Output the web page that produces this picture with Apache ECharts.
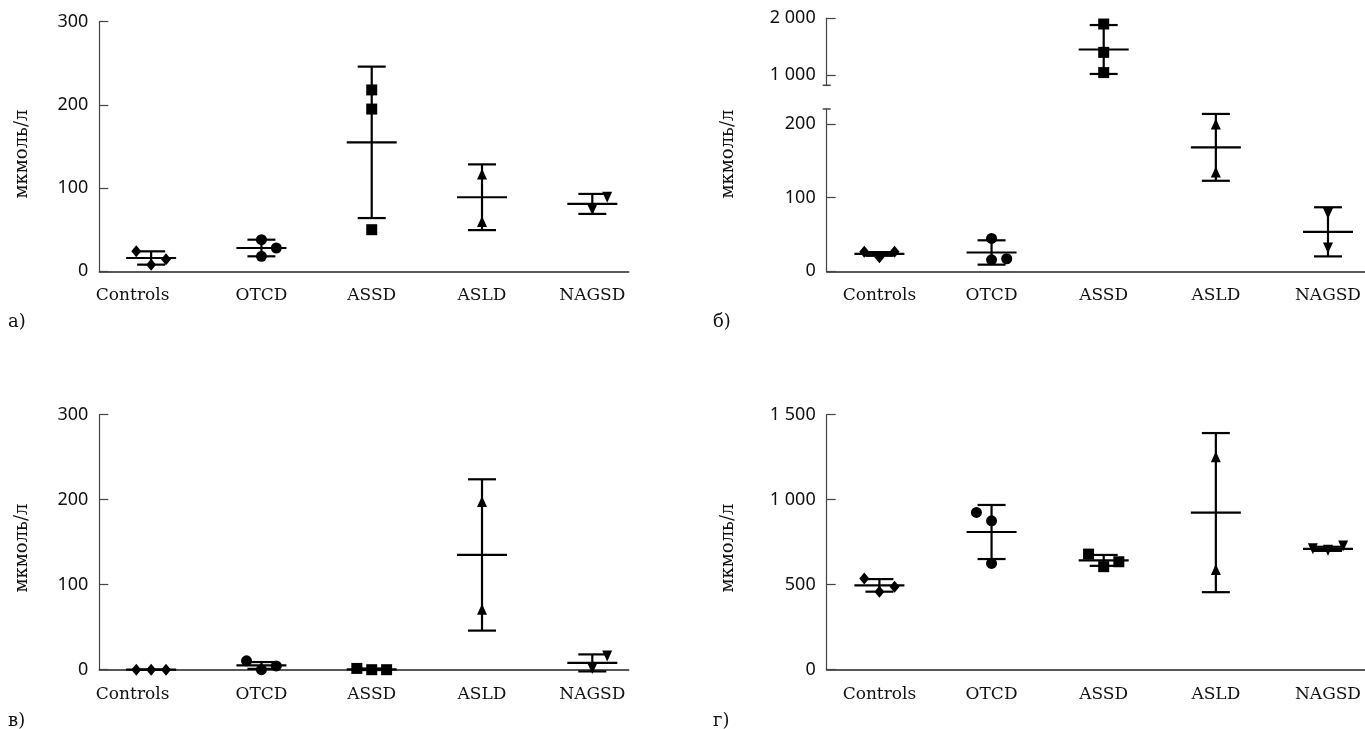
<!DOCTYPE html>
<html>
<head>
<meta charset="utf-8">
<script src="https://cdn.jsdelivr.net/npm/echarts@6.0.0/dist/echarts.min.js"></script>
<style>
  html, body { margin: 0; background: #fff; }
  #chart { width: 1365px; height: 729px; }
</style>
</head>
<body>
<div id="chart"></div>
<script>
// groups on the x axis
const categories = ['Controls', 'OTCD', 'ASSD', 'ASLD', 'NAGSD'];

// individual points: [jitter slot, value], one list per group
const pointsA = [
  [[-1, 24], [0, 8], [1, 14.5]],
  [[0, 38], [0, 18], [1, 28]],
  [[0, 218], [0, 195], [0, 50]],
  [[0, 117], [0, 60]],
  [[0, 74], [1, 89]]
];
const meanA = [16, 28, 155, 89, 81];
const sdA = [8, 10, 91, 39.5, 12];

const pointsB = [
  [[-1, 26.5], [0, 19], [1, 26.5]],
  [[0, 44.5], [0, 15.5], [1, 17]],
  [[0, 1895], [0, 1400], [0, 1047]],
  [[0, 199.5], [0, 134.5]],
  [[0, 78.5], [0, 31.5]]
];
const meanB = [23.5, 25.5, 1450, 168, 53.5];
const sdB = [2.5, 16.5, 427, 45.3, 33.3];

const pointsC = [
  [[-1, 0], [0, 0], [1, 0]],
  [[-1, 10.5], [0, 0], [1, 4.5]],
  [[-1, 1.5], [0, 0], [1, 0]],
  [[0, 198], [0, 71]],
  [[0, 1.5], [1, 16]]
];
const meanC = [0, 5, 0.5, 135, 8];
const sdC = [0, 4, 0.9, 89, 10];

const pointsD = [
  [[-1, 537], [0, 459], [1, 488]],
  [[-1, 925], [0, 876], [0, 625]],
  [[-1, 680], [0, 606], [1, 635]],
  [[0, 1253], [0, 590]],
  [[-1, 712], [0, 702], [1, 728]]
];
const meanD = [496, 810, 643, 924, 711];
const sdD = [37, 159, 32, 468, 12];

// y tick labels
const ticksA = [0, 100, 200, 300];
const ticksBUp = [1000, 2000];
const ticksBLow = [0, 100, 200];
const ticksC = [0, 100, 200, 300];
const ticksD = [0, 500, 1000, 1500];

const JIT = 0.135;
const shapes = ['diamond', 'circle', 'rect', 'triangle', 'triangle'];
const sizes = [[10, 12], 11, 11, [10, 11], [10, 11]];
const INK = '#111';

function fmtNum(v) {
  return String(v).replace(/\B(?=(\d{3})+(?!\d))/g, ' ');
}

function xAxisFor(gridIndex, show, shiftControls) {
  return {
    type: 'value', gridIndex: gridIndex, min: -0.47, max: 4.33, show: show,
    axisLine: { show: true, onZero: false, lineStyle: { color: '#222', width: 1.5 } },
    axisTick: { show: false },
    splitLine: { show: false },
    axisLabel: {
      customValues: [0, 1, 2, 3, 4], margin: 16,
      fontFamily: 'DejaVu Serif', fontSize: 17, color: INK,
      formatter: function (v) {
        const name = categories[Math.round(v)];
        return (shiftControls && Math.round(v) === 0) ? '{c|' + name + '}' : name;
      },
      rich: { c: { fontFamily: 'DejaVu Serif', fontSize: 17, color: INK, padding: [0, 37, 0, 0] } }
    }
  };
}

function yAxisFor(gridIndex, min, max, ticks, mark) {
  return {
    type: 'value', gridIndex: gridIndex, min: min, max: max,
    axisLine: { show: true, onZero: false, symbol: mark, symbolSize: [8, 1.5],
      lineStyle: { color: '#444', width: 1.2 } },
    axisTick: { show: true, inside: true, length: 9, customValues: ticks,
      lineStyle: { color: '#444', width: 1.2 } },
    axisLabel: { customValues: ticks, margin: 11, fontFamily: 'Noto Sans',
      fontSize: 18, color: INK, formatter: fmtNum },
    splitLine: { show: false }
  };
}

function scatterFor(points, axisIndex, only) {
  const data = [];
  points.forEach(function (grp, i) {
    if (only && only.indexOf(i) < 0) return;
    grp.forEach(function (p) {
      data.push({
        value: [i + p[0] * JIT, p[1]],
        symbol: shapes[i],
        symbolSize: sizes[i],
        symbolRotate: i === 4 ? 180 : 0
      });
    });
  });
  return {
    type: 'scatter', xAxisIndex: axisIndex, yAxisIndex: axisIndex, z: 5,
    itemStyle: { color: '#000', opacity: 1 }, data: data, silent: true
  };
}

function barsFor(mean, sd, axisIndex, only) {
  const data = [];
  mean.forEach(function (m, i) {
    if (only && only.indexOf(i) < 0) return;
    data.push([i, m, sd[i]]);
  });
  return {
    type: 'custom', xAxisIndex: axisIndex, yAxisIndex: axisIndex, z: 4,
    encode: { x: 0, y: 1 }, data: data, silent: true,
    renderItem: function (params, api) {
      const x = api.value(0), m = api.value(1), s = api.value(2);
      const c = api.coord([x, m]);
      const t = api.coord([x, m + s]);
      const b = api.coord([x, m - s]);
      const st = { stroke: '#000', lineWidth: 2.2 };
      return {
        type: 'group',
        children: [
          { type: 'line', shape: { x1: c[0], y1: t[1], x2: c[0], y2: b[1] }, style: st },
          { type: 'line', shape: { x1: c[0] - 14, y1: t[1], x2: c[0] + 14, y2: t[1] }, style: st },
          { type: 'line', shape: { x1: c[0] - 14, y1: b[1], x2: c[0] + 14, y2: b[1] }, style: st },
          { type: 'line', shape: { x1: c[0] - 25, y1: c[1], x2: c[0] + 25, y2: c[1] }, style: st }
        ]
      };
    }
  };
}

function label(text, x, y, rotate) {
  return {
    type: 'text', x: x, y: y, rotation: rotate ? Math.PI / 2 : 0,
    style: { text: text, fontFamily: 'DejaVu Serif', fontSize: 18, fill: INK,
      textAlign: rotate ? 'center' : 'left', textVerticalAlign: 'middle' }
  };
}

const chart = echarts.init(document.getElementById('chart'));
chart.setOption({
  animation: false,
  backgroundColor: '#fff',
  grid: [
    { left: 99.3, top: 21.7, width: 529.4, height: 249.6 },
    { left: 826.7, top: 18, width: 538.6, height: 67.3 },
    { left: 826.7, top: 109, width: 538.6, height: 162.3 },
    { left: 99.3, top: 414.7, width: 529.4, height: 255 },
    { left: 826.7, top: 414.7, width: 538.6, height: 255 }
  ],
  xAxis: [
    xAxisFor(0, true, true),
    xAxisFor(1, false, false),
    xAxisFor(2, true, false),
    xAxisFor(3, true, true),
    xAxisFor(4, true, false)
  ],
  yAxis: [
    yAxisFor(0, 0, 300, ticksA, ['none', 'none']),
    yAxisFor(1, 825, 2000, ticksBUp, ['rect', 'none']),
    yAxisFor(2, 0, 220, ticksBLow, ['none', 'rect']),
    yAxisFor(3, 0, 300, ticksC, ['none', 'none']),
    yAxisFor(4, 0, 1500, ticksD, ['none', 'none'])
  ],
  graphic: [
    label('мкмоль/л', 22, 154, true),
    label('мкмоль/л', 728, 154, true),
    label('мкмоль/л', 22, 548, true),
    label('мкмоль/л', 728, 548, true),
    label('а)', 8, 322, false),
    label('б)', 713, 322, false),
    label('в)', 8, 721, false),
    label('г)', 713, 721, false)
  ],
  series: [
    barsFor(meanA, sdA, 0),
    scatterFor(pointsA, 0),
    barsFor(meanB, sdB, 1, [2]),
    scatterFor(pointsB, 1, [2]),
    barsFor(meanB, sdB, 2, [0, 1, 3, 4]),
    scatterFor(pointsB, 2, [0, 1, 3, 4]),
    barsFor(meanC, sdC, 3),
    scatterFor(pointsC, 3),
    barsFor(meanD, sdD, 4),
    scatterFor(pointsD, 4)
  ]
});
</script>
</body>
</html>
